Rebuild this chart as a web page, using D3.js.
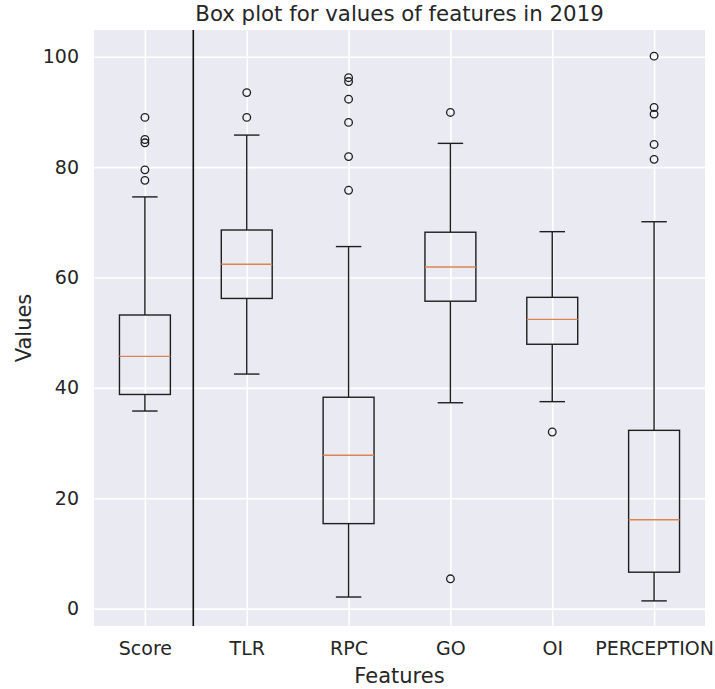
<!DOCTYPE html>
<html>
<head>
<meta charset="utf-8">
<script src="https://cdn.jsdelivr.net/npm/d3@7"></script>
<style>
  html, body { margin: 0; padding: 0; background: #ffffff; }
  svg { display: block; }
  text { font-family: "DejaVu Sans", sans-serif; fill: #262626; }
</style>
</head>
<body>
<svg id="chart" width="715" height="689"></svg>
<script>
// ---- data ----
const categories   = ["Score", "TLR", "RPC", "GO", "OI", "PERCEPTION"];
const whiskerLow   = [35.8, 42.5, 2.1, 37.3, 37.5, 1.4];
const q1           = [38.8, 56.2, 15.4, 55.7, 47.9, 6.6];
const medians      = [45.7, 62.4, 27.8, 61.9, 52.4, 16.1];
const q3           = [53.2, 68.6, 38.3, 68.2, 56.4, 32.3];
const whiskerHigh  = [74.6, 85.8, 65.6, 84.3, 68.3, 70.1];
const outliers     = [
  [77.6, 79.5, 84.4, 85.0, 89.0],
  [89.0, 93.5],
  [75.8, 81.9, 88.1, 92.3, 95.5, 96.2],
  [5.4, 89.9],
  [32.0],
  [81.4, 84.1, 89.6, 90.8, 100.1]
];
const yTicks       = [0, 20, 40, 60, 80, 100];
const separatorAt  = 1.475;   // vertical separator line position (x data units)
const titleText    = "Box plot for values of features in 2019";
const xLabelText   = "Features";
const yLabelText   = "Values";

// ---- layout ----
const plot = { left: 94, right: 705, top: 30, bottom: 626 };
const svg = d3.select("#chart");

const x = d3.scaleLinear().domain([0.5, categories.length + 0.5]).range([plot.left, plot.right]);
const y = d3.scaleLinear().domain([-3.15, 104.84]).range([plot.bottom, plot.top]);

const boxW = x(1.5) - x(1);       // box width 0.5 units
const capW = x(1.25) - x(1);      // cap width 0.25 units

// background
svg.append("rect")
  .attr("x", plot.left).attr("y", plot.top)
  .attr("width", plot.right - plot.left).attr("height", plot.bottom - plot.top)
  .attr("fill", "#EAEAF2");

// grid (horizontal)
const gy = svg.append("g").attr("transform", `translate(${plot.left},0)`)
  .call(d3.axisLeft(y).tickValues(yTicks).tickSize(-(plot.right - plot.left)).tickFormat(""));
gy.select(".domain").remove();
gy.selectAll("line").attr("stroke", "#ffffff").attr("stroke-width", 1.6);

// grid (vertical)
const positions = categories.map((d, i) => i + 1);
const gx = svg.append("g").attr("transform", `translate(0,${plot.bottom})`)
  .call(d3.axisBottom(x).tickValues(positions).tickSize(-(plot.bottom - plot.top)).tickFormat(""));
gx.select(".domain").remove();
gx.selectAll("line").attr("stroke", "#ffffff").attr("stroke-width", 1.6);

// y tick labels
const ay = svg.append("g").attr("transform", `translate(${plot.left},0)`)
  .call(d3.axisLeft(y).tickValues(yTicks).tickSize(0).tickPadding(15).tickFormat(d3.format("d")));
ay.select(".domain").remove();
ay.selectAll("text").attr("font-size", "19px").attr("fill", "#333333")
  .attr("font-family", "DejaVu Sans, sans-serif");

// x tick labels
const ax = svg.append("g").attr("transform", `translate(0,${plot.bottom})`)
  .call(d3.axisBottom(x).tickValues(positions).tickSize(0).tickPadding(16)
    .tickFormat(d => categories[d - 1]));
ax.select(".domain").remove();
ax.selectAll("text").attr("font-size", "19px").attr("fill", "#333333")
  .attr("font-family", "DejaVu Sans, sans-serif");

// boxes
const stroke = "#1e1e1e", sw = 1.4;
const g = svg.append("g");
categories.forEach((c, i) => {
  const cx = x(i + 1);
  // whiskers
  g.append("line").attr("x1", cx).attr("x2", cx).attr("y1", y(q3[i])).attr("y2", y(whiskerHigh[i]))
    .attr("stroke", stroke).attr("stroke-width", sw);
  g.append("line").attr("x1", cx).attr("x2", cx).attr("y1", y(q1[i])).attr("y2", y(whiskerLow[i]))
    .attr("stroke", stroke).attr("stroke-width", sw);
  // caps
  [whiskerHigh[i], whiskerLow[i]].forEach(v => {
    g.append("line").attr("x1", cx - capW / 2).attr("x2", cx + capW / 2)
      .attr("y1", y(v)).attr("y2", y(v)).attr("stroke", stroke).attr("stroke-width", sw);
  });
  // box
  g.append("rect").attr("x", cx - boxW / 2).attr("y", y(q3[i]))
    .attr("width", boxW).attr("height", y(q1[i]) - y(q3[i]))
    .attr("fill", "none").attr("stroke", stroke).attr("stroke-width", sw);
  // median
  g.append("line").attr("x1", cx - boxW / 2).attr("x2", cx + boxW / 2)
    .attr("y1", y(medians[i])).attr("y2", y(medians[i]))
    .attr("stroke", "#DD8452").attr("stroke-width", 1.4);
  // fliers
  g.selectAll(null).data(outliers[i]).enter().append("circle")
    .attr("cx", cx).attr("cy", d => y(d)).attr("r", 3.8)
    .attr("fill", "none").attr("stroke", stroke).attr("stroke-width", 1.3);
});

// separator line
svg.append("line")
  .attr("x1", x(separatorAt)).attr("x2", x(separatorAt))
  .attr("y1", plot.top).attr("y2", plot.bottom)
  .attr("stroke", "#111").attr("stroke-width", 1.6);

// title & axis labels
svg.append("text").attr("x", (plot.left + plot.right) / 2).attr("y", 21)
  .attr("text-anchor", "middle").attr("font-size", "21.3px").text(titleText);
svg.append("text").attr("x", (plot.left + plot.right) / 2).attr("y", 683)
  .attr("text-anchor", "middle").attr("font-size", "21px").text(xLabelText);
svg.append("text").attr("transform", `translate(31,${(plot.top + plot.bottom) / 2}) rotate(-90)`)
  .attr("text-anchor", "middle").attr("font-size", "21px").text(yLabelText);
</script>
</body>
</html>
